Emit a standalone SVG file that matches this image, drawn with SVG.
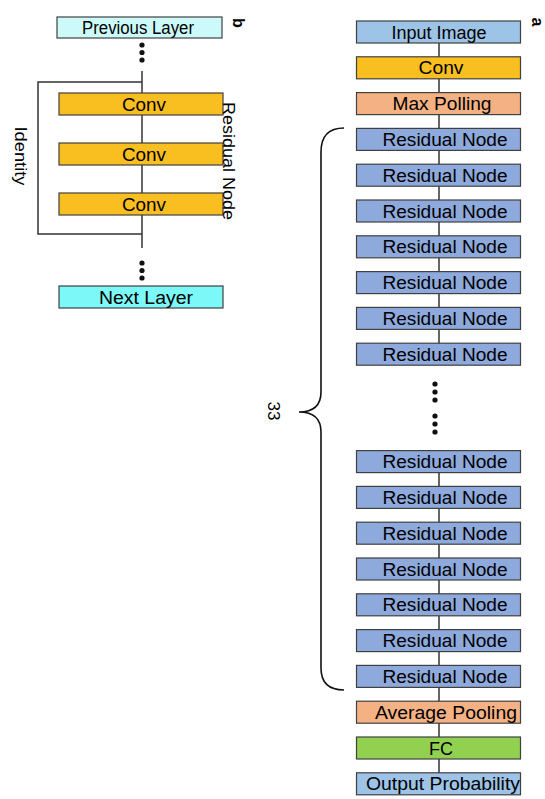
<svg xmlns="http://www.w3.org/2000/svg" width="545" height="799" viewBox="0 0 545 799">
<defs>
<style>
.box{stroke:#404040;stroke-width:1.2}
.t{font-family:"Liberation Sans",Arial,sans-serif;font-size:17.5px;fill:#000;text-anchor:middle}
.lbl{font-family:"Liberation Sans",Arial,sans-serif;font-size:17px;fill:#000;text-anchor:middle}
.bold{font-family:"Liberation Sans",Arial,sans-serif;font-weight:bold;fill:#000;text-anchor:middle}
.ln{stroke:#333;stroke-width:1.5;fill:none}
.br{stroke:#111;stroke-width:1.6;fill:none}
.dot{fill:#111}
.inp{fill:#9DC3E6}
.conv{fill:#F9BE1F}
.pool{fill:#F4B183}
.res{fill:#8EA9DB}
.fc{fill:#92D050}
.prev{fill:#CCFAFA}
.next{fill:#7CF8F8}
</style>
</defs>
<rect width="545" height="799" fill="#fff"/>

<!-- connectors -->
<g id="connectors">
<line class="ln" x1="439" y1="43" x2="439" y2="344"/>
<line class="ln" x1="439" y1="472" x2="439" y2="773"/>
<line class="ln" x1="142" y1="71" x2="142" y2="248"/>
<path class="ln" d="M142,82 H38 V234 H142"/>
<path class="br" d="M344,128 Q321,128 321,152 V392 Q321,412 299,412 Q321,412 321,432 V668 Q321,690 344,690"/>
</g>

<!-- part a -->
<g id="input"><rect class="box inp" x="356.5" y="21" width="164" height="22"/><text class="t" x="439" y="38.5" textLength="95" lengthAdjust="spacingAndGlyphs">Input Image</text></g>
<g id="conv-a"><rect class="box conv" x="356.5" y="56.8" width="164" height="22"/><text class="t" x="441" y="74.3" textLength="45" lengthAdjust="spacingAndGlyphs">Conv</text></g>
<g id="maxpool"><rect class="box pool" x="356.5" y="92.6" width="164" height="22"/><text class="t" x="442" y="110.1" textLength="99" lengthAdjust="spacingAndGlyphs">Max Polling</text></g>
<g id="res1"><rect class="box res" x="356.5" y="128.4" width="164" height="22"/><text class="t" x="445" y="145.9" textLength="125" lengthAdjust="spacingAndGlyphs">Residual Node</text></g>
<g id="res2"><rect class="box res" x="356.5" y="164.2" width="164" height="22"/><text class="t" x="445" y="181.7" textLength="125" lengthAdjust="spacingAndGlyphs">Residual Node</text></g>
<g id="res3"><rect class="box res" x="356.5" y="200" width="164" height="22"/><text class="t" x="445" y="217.5" textLength="125" lengthAdjust="spacingAndGlyphs">Residual Node</text></g>
<g id="res4"><rect class="box res" x="356.5" y="235.8" width="164" height="22"/><text class="t" x="445" y="253.3" textLength="125" lengthAdjust="spacingAndGlyphs">Residual Node</text></g>
<g id="res5"><rect class="box res" x="356.5" y="271.6" width="164" height="22"/><text class="t" x="445" y="289.1" textLength="125" lengthAdjust="spacingAndGlyphs">Residual Node</text></g>
<g id="res6"><rect class="box res" x="356.5" y="307.4" width="164" height="22"/><text class="t" x="445" y="324.9" textLength="125" lengthAdjust="spacingAndGlyphs">Residual Node</text></g>
<g id="res7"><rect class="box res" x="356.5" y="343.2" width="164" height="22"/><text class="t" x="445" y="360.7" textLength="125" lengthAdjust="spacingAndGlyphs">Residual Node</text></g>
<g id="dots-a">
<circle class="dot" cx="435" cy="384" r="2.6"/><circle class="dot" cx="435" cy="392" r="2.6"/><circle class="dot" cx="435" cy="400" r="2.6"/>
<circle class="dot" cx="435" cy="416" r="2.6"/><circle class="dot" cx="435" cy="424" r="2.6"/><circle class="dot" cx="435" cy="432" r="2.6"/>
</g>
<g id="res8"><rect class="box res" x="356.5" y="450.6" width="164" height="22"/><text class="t" x="445" y="468.1" textLength="125" lengthAdjust="spacingAndGlyphs">Residual Node</text></g>
<g id="res9"><rect class="box res" x="356.5" y="486.4" width="164" height="22"/><text class="t" x="445" y="503.9" textLength="125" lengthAdjust="spacingAndGlyphs">Residual Node</text></g>
<g id="res10"><rect class="box res" x="356.5" y="522.2" width="164" height="22"/><text class="t" x="445" y="539.7" textLength="125" lengthAdjust="spacingAndGlyphs">Residual Node</text></g>
<g id="res11"><rect class="box res" x="356.5" y="558" width="164" height="22"/><text class="t" x="445" y="575.5" textLength="125" lengthAdjust="spacingAndGlyphs">Residual Node</text></g>
<g id="res12"><rect class="box res" x="356.5" y="593.8" width="164" height="22"/><text class="t" x="445" y="611.3" textLength="125" lengthAdjust="spacingAndGlyphs">Residual Node</text></g>
<g id="res13"><rect class="box res" x="356.5" y="629.6" width="164" height="22"/><text class="t" x="445" y="647.1" textLength="125" lengthAdjust="spacingAndGlyphs">Residual Node</text></g>
<g id="res14"><rect class="box res" x="356.5" y="665.4" width="164" height="22"/><text class="t" x="445" y="682.9" textLength="125" lengthAdjust="spacingAndGlyphs">Residual Node</text></g>
<g id="avgpool"><rect class="box pool" x="356.5" y="701.2" width="164" height="22"/><text class="t" x="446" y="718.7" textLength="142" lengthAdjust="spacingAndGlyphs">Average Pooling</text></g>
<g id="fc"><rect class="box fc" x="356.5" y="737" width="164" height="22"/><text class="t" x="441" y="754.5" textLength="24" lengthAdjust="spacingAndGlyphs">FC</text></g>
<g id="output"><rect class="box inp" x="356.5" y="772.8" width="164" height="22"/><text class="t" x="443" y="790.3" textLength="154" lengthAdjust="spacingAndGlyphs">Output Probability</text></g>
<g id="count"><text class="lbl" transform="translate(268,411) rotate(90)">33</text></g>
<g id="label-a"><text class="bold" font-size="16" transform="translate(532,22) rotate(90)">a</text></g>

<!-- part b -->
<g id="label-b"><text class="bold" font-size="16" transform="translate(233,23) rotate(90)">b</text></g>
<g id="prev"><rect class="box prev" x="57" y="17" width="165" height="21"/><text class="t" x="138" y="33.5" textLength="112" lengthAdjust="spacingAndGlyphs">Previous Layer</text></g>
<g id="dots-b1"><circle class="dot" cx="142" cy="45" r="2.6"/><circle class="dot" cx="142" cy="52.5" r="2.6"/><circle class="dot" cx="142" cy="60" r="2.6"/></g>
<g id="conv-b1"><rect class="box conv" x="59" y="93" width="164" height="22"/><text class="t" x="144" y="110.5" textLength="44" lengthAdjust="spacingAndGlyphs">Conv</text></g>
<g id="conv-b2"><rect class="box conv" x="59" y="143" width="164" height="22"/><text class="t" x="144" y="160.5" textLength="44" lengthAdjust="spacingAndGlyphs">Conv</text></g>
<g id="conv-b3"><rect class="box conv" x="59" y="193" width="164" height="22"/><text class="t" x="144" y="210.5" textLength="44" lengthAdjust="spacingAndGlyphs">Conv</text></g>
<g id="dots-b2"><circle class="dot" cx="142" cy="263" r="2.6"/><circle class="dot" cx="142" cy="270.5" r="2.6"/><circle class="dot" cx="142" cy="278" r="2.6"/></g>
<g id="next"><rect class="box next" x="59" y="286" width="164" height="22"/><text class="t" x="146" y="303.5" textLength="94" lengthAdjust="spacingAndGlyphs">Next Layer</text></g>
<g id="identity-label"><text class="lbl" transform="translate(15,156) rotate(90)" textLength="59" lengthAdjust="spacingAndGlyphs">Identity</text></g>
<g id="residual-label"><text class="lbl" transform="translate(223,161) rotate(90)" textLength="118" lengthAdjust="spacingAndGlyphs">Residual Node</text></g>
</svg>
